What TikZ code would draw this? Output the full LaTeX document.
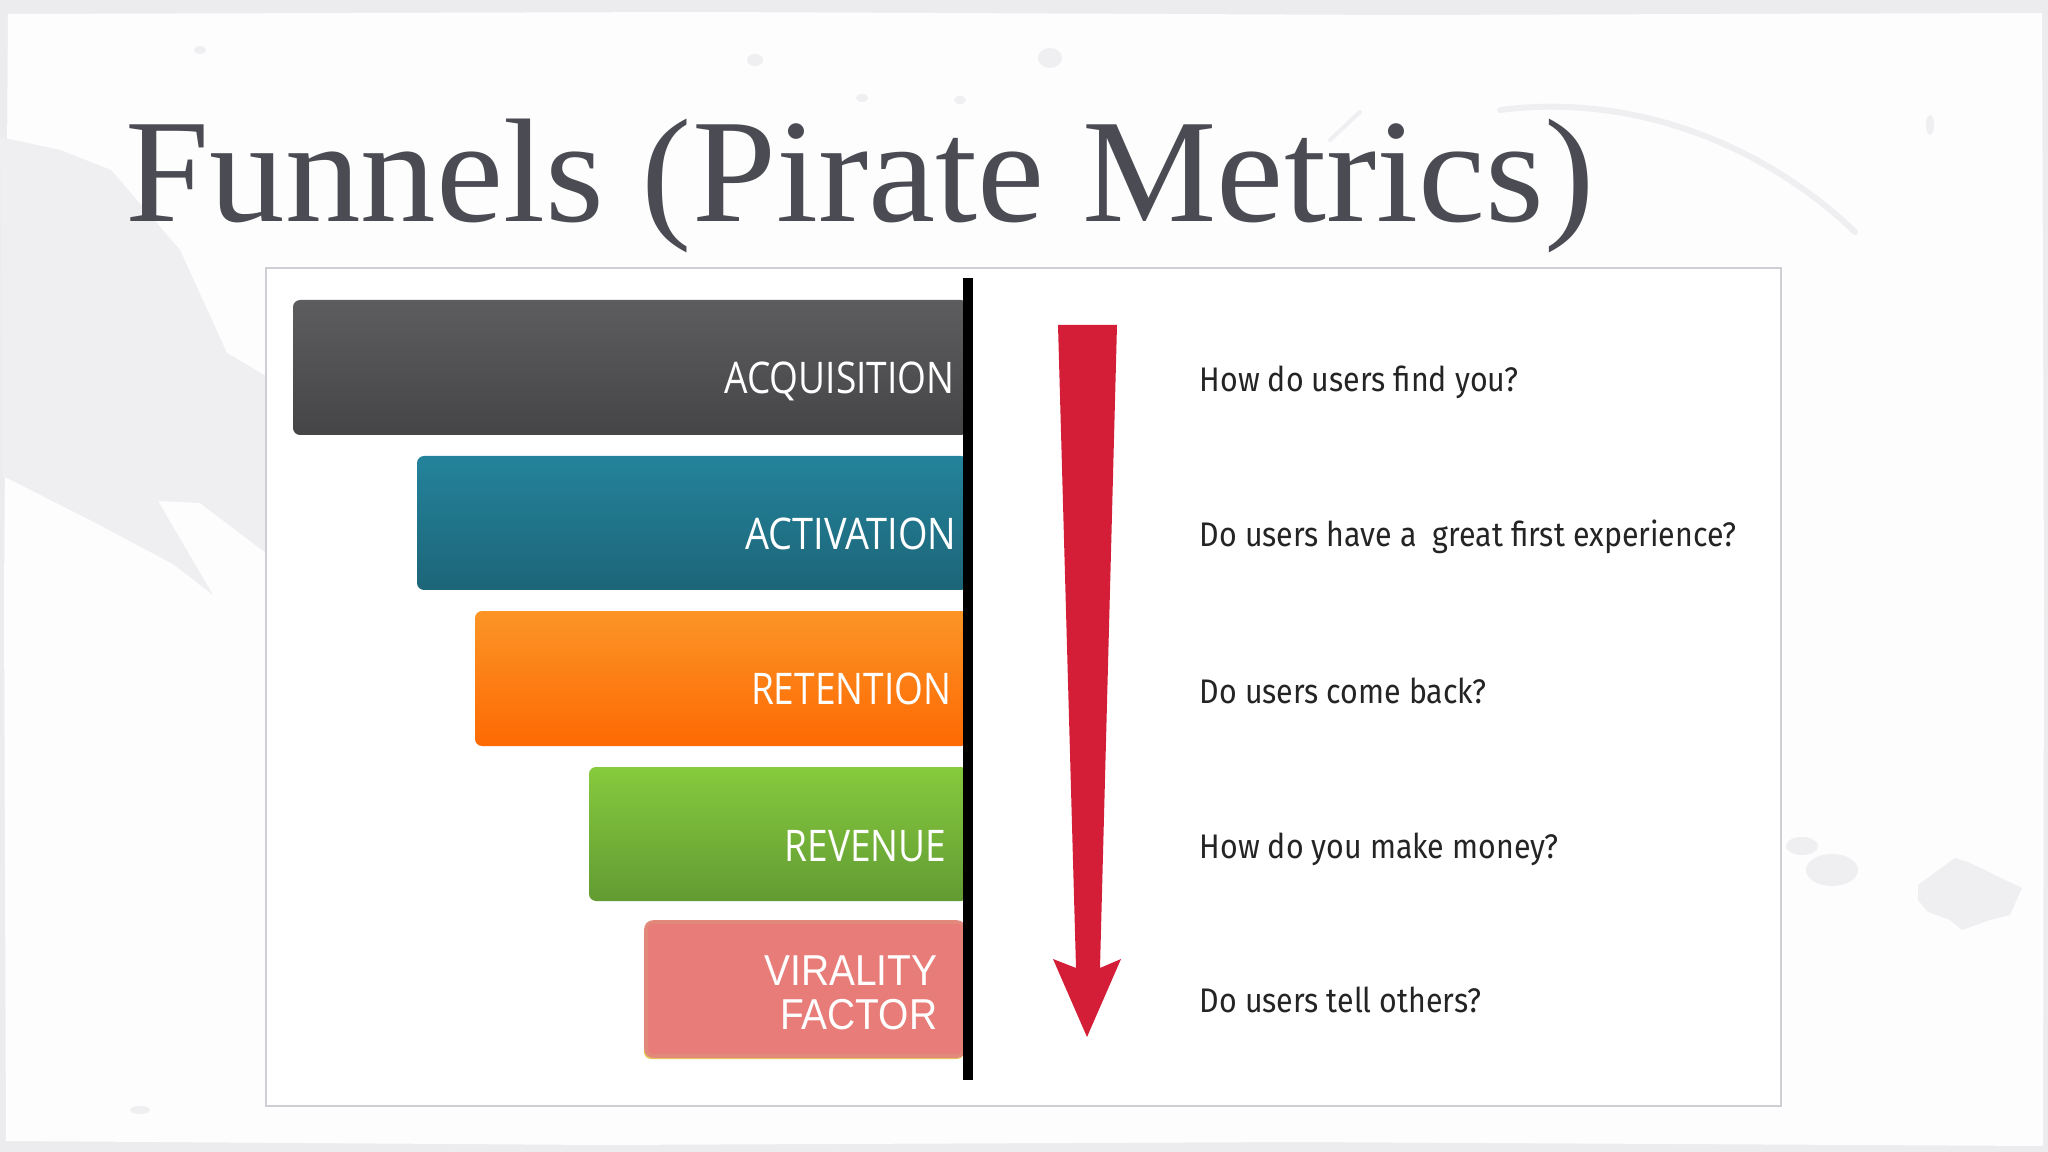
\documentclass[tikz,border=0pt]{standalone}
\usepackage{fontspec}
\setmainfont{Liberation Serif}
\newfontfamily\labfont{Open Sans}
\newfontfamily\virfont{Liberation Sans}
\newfontfamily\qfont{Fira Sans}
\definecolor{titlegray}{HTML}{4A4B53}
\definecolor{paper}{HTML}{FDFDFD}
\definecolor{edge}{HTML}{ECECEE}
\definecolor{brush}{HTML}{EFEFF1}
\definecolor{panelline}{HTML}{CFCFD3}
\definecolor{acqtop}{HTML}{5D5D5F}
\definecolor{acqbot}{HTML}{454547}
\definecolor{acttop}{HTML}{23839B}
\definecolor{actbot}{HTML}{1D6578}
\definecolor{rettop}{HTML}{FC9526}
\definecolor{retbot}{HTML}{FD6903}
\definecolor{revtop}{HTML}{86CA3D}
\definecolor{revbot}{HTML}{629B33}
\definecolor{virfill}{HTML}{E77C78}
\definecolor{virline}{HTML}{E2897B}
\definecolor{viredge}{HTML}{E6C25A}
\definecolor{arrowred}{HTML}{D41E38}
\definecolor{qtext}{HTML}{242424}
\tikzset{
  barlabel/.style={anchor=base east, text=white, inner sep=0pt, font=\labfont\fontsize{12.4pt}{14pt}\selectfont},
  virlabel/.style={anchor=base east, text=white, inner sep=0pt, font=\virfont\fontsize{12.3pt}{12.5pt}\selectfont},
  question/.style={anchor=base west, text=qtext, inner sep=0pt, font=\qfont\fontsize{9.7pt}{11pt}\selectfont},
  barshape/.style={rounded corners=2pt},
}
\begin{document}
\begin{tikzpicture}[x=0.01cm,y=-0.01cm]
\useasboundingbox (0,0) rectangle (2048,1152);
% background paper
\fill[edge] (0,0) rectangle (2048,1152);
\fill[paper] (8,14) -- (700,12) -- (1400,15) -- (2042,13) -- (2044,600) -- (2043,1146) -- (1300,1142) -- (600,1145) -- (6,1141) -- (4,600) -- cycle;
% brush strokes
\fill[brush] (0,137) -- (60,150) -- (111,170) -- (180,250) -- (227,353) -- (266,376) -- (266,553) -- (200,503) -- (158,501) -- (213,595) -- (173,564) -- (90,520) -- (3,476) -- cycle;
\draw[brush, line width=0.06cm, line cap=round] (1500,110) .. controls (1640,92) and (1770,150) .. (1855,232);
\draw[brush, line width=0.04cm, line cap=round] (1360,112) -- (1330,140);
\fill[brush] (1802,846) ellipse (16 and 9);
\fill[brush] (1832,870) ellipse (26 and 16);
\fill[brush] (1918,885) -- (1955,858) -- (1968,862) -- (2022,888) -- (2010,915) -- (1990,920) -- (1962,930) -- (1950,920) -- (1928,912) -- (1918,900) -- cycle;
\fill[brush] (755,60) ellipse (8 and 6);
\fill[brush] (1050,58) ellipse (12 and 10);
\fill[brush] (862,98) ellipse (6 and 4);
\fill[brush] (960,100) ellipse (6 and 4);
\fill[brush] (200,50) ellipse (6 and 4);
\fill[brush] (1930,125) ellipse (4 and 10);
\fill[brush] (140,1110) ellipse (10 and 4);
% title
\node[anchor=base west, inner sep=0pt, text=titlegray, font=\fontsize{42pt}{48pt}\selectfont] (title) at (125,222) {\scalebox{1.023}[1]{Funnels (Pirate Metrics)}};
% panel
\draw[panelline, line width=0.6pt, fill=white] (266,268) rectangle (1781,1106);
% bars
\shade[barshape, top color=acqtop, bottom color=acqbot] (293,300) rectangle (968,435);
\shade[barshape, top color=acttop, bottom color=actbot] (417,456) rectangle (968,590);
\shade[barshape, top color=rettop, bottom color=retbot] (475,611) rectangle (968,746);
\shade[barshape, top color=revtop, bottom color=revbot] (589,767) rectangle (968,901);
\fill[barshape, fill=viredge] (644,924) rectangle (964,1059);
\draw[barshape, fill=virfill, draw=virline, line width=1pt] (646,922) rectangle (964,1056);
% labels
\node[barlabel] (acq) at (955,394) {\scalebox{0.85}[1]{ACQUISITION}};
\node[barlabel] (act) at (957,550) {\scalebox{0.87}[1]{ACTIVATION}};
\node[barlabel] (ret) at (952,705) {\scalebox{0.85}[1]{RETENTION}};
\node[barlabel] (rev) at (947,861) {\scalebox{0.85}[1]{REVENUE}};
\node[virlabel] (vir1) at (938,985) {\scalebox{0.9}[1]{VIRALITY}};
\node[virlabel] (vir2) at (938,1029) {\scalebox{0.9}[1]{FACTOR}};
% black divider
\coordinate (divtop) at (968,278);
\coordinate (divbot) at (968,1080);
\draw[black, line width=0.1cm] (divtop) -- (divbot);
% red arrow
\fill[arrowred] (1058,325) -- (1117,325) -- (1100,968) -- (1121,959) -- (1087,1037) -- (1053,959) -- (1076,968) -- cycle;
% questions
\node[question] (q1) at (1199,392) {\scalebox{0.89}[1]{How do users find you?}};
\node[question] (q2) at (1199,547) {\scalebox{0.89}[1]{Do users have a~ great first experience?}};
\node[question] (q3) at (1199,703) {\scalebox{0.89}[1]{Do users come back?}};
\node[question] (q4) at (1199,858) {\scalebox{0.89}[1]{How do you make money?}};
\node[question] (q5) at (1199,1012) {\scalebox{0.89}[1]{Do users tell others?}};
\end{tikzpicture}
\end{document}
